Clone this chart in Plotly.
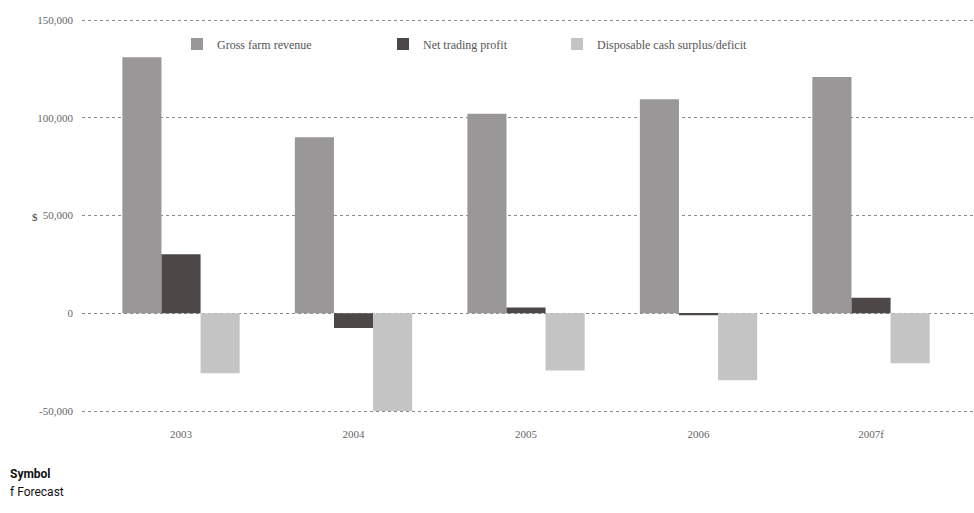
import plotly.graph_objects as go

years = ["2003", "2004", "2005", "2006", "2007f"]
gross_farm_revenue = [131000, 90000, 102000, 109500, 120800]
net_trading_profit = [30200, -7500, 3000, -1000, 7900]
disposable_cash = [-30700, -50000, -29300, -34300, -25600]

y_ticks = [-50000, 0, 50000, 100000, 150000]
y_tick_text = ["-50,000", "0", "50,000", "100,000", "150,000"]

colors = ["#999797", "#4d4847", "#c4c4c4"]
names = ["Gross farm revenue", "Net trading profit", "Disposable cash surplus/deficit"]
series = [gross_farm_revenue, net_trading_profit, disposable_cash]
legend_ids = ["legend", "legend2", "legend3"]

fig = go.Figure()
for name, vals, col, lg in zip(names, series, colors, legend_ids):
    fig.add_trace(go.Bar(x=years, y=vals, name=name, marker=dict(color=col, line=dict(width=0)),
                         legend=lg, showlegend=True))

serif = "Liberation Serif, DejaVu Serif, serif"
legend_common = dict(orientation="h", yanchor="middle", xanchor="left",
                     font=dict(family=serif, size=12, color="#555"),
                     bgcolor="rgba(0,0,0,0)", itemwidth=30, visible=True)

W, H = 974, 513
ml, mr, mt, mb = 82, 0, 15, 97
pw = W - ml - mr
ph = H - mt - mb
def px_x(px):
    return (px - ml) / pw
def px_y(py):
    return (H - mb - py) / ph

per_px = 200000 / 391
pad = 5 * per_px

fig.update_layout(
    width=W, height=H,
    margin=dict(l=ml, r=mr, t=mt, b=mb),
    paper_bgcolor="white", plot_bgcolor="white",
    showlegend=True,
    barmode="group", bargap=0.32, bargroupgap=0,
    legend=dict(**legend_common, x=px_x(177), y=px_y(44)),
    legend2=dict(**legend_common, x=px_x(383), y=px_y(44)),
    legend3=dict(**legend_common, x=px_x(557), y=px_y(44)),
    xaxis=dict(type="category", range=[-0.574, 4.597], showgrid=False, zeroline=False,
               showline=False, ticks="", ticklabelstandoff=10,
               tickfont=dict(family=serif, size=11, color="#666")),
    yaxis=dict(range=[-50000 - pad, 150000 + pad], tickvals=y_ticks, ticktext=y_tick_text,
               showgrid=True, gridcolor="#8a8a8a", griddash="dot", gridwidth=1,
               zeroline=False,
               showline=False, ticks="", ticklabelstandoff=8,
               tickfont=dict(family=serif, size=11, color="#666")),
    annotations=[
        dict(text="$", xref="paper", yref="paper", x=px_x(35), y=px_y(217),
             xanchor="center", yanchor="middle", showarrow=False,
             font=dict(family=serif, size=11, color="#444")),
        dict(text="<b>Symbol</b>", xref="paper", yref="paper", x=px_x(8), y=px_y(474),
             xanchor="left", yanchor="middle", showarrow=False,
             font=dict(family="Roboto, sans-serif", size=12, color="#111")),
        dict(text="f Forecast", xref="paper", yref="paper", x=px_x(8), y=px_y(492),
             xanchor="left", yanchor="middle", showarrow=False,
             font=dict(family="Roboto, sans-serif", size=12, color="#111")),
    ],
)

fig.write_html("out.html")
